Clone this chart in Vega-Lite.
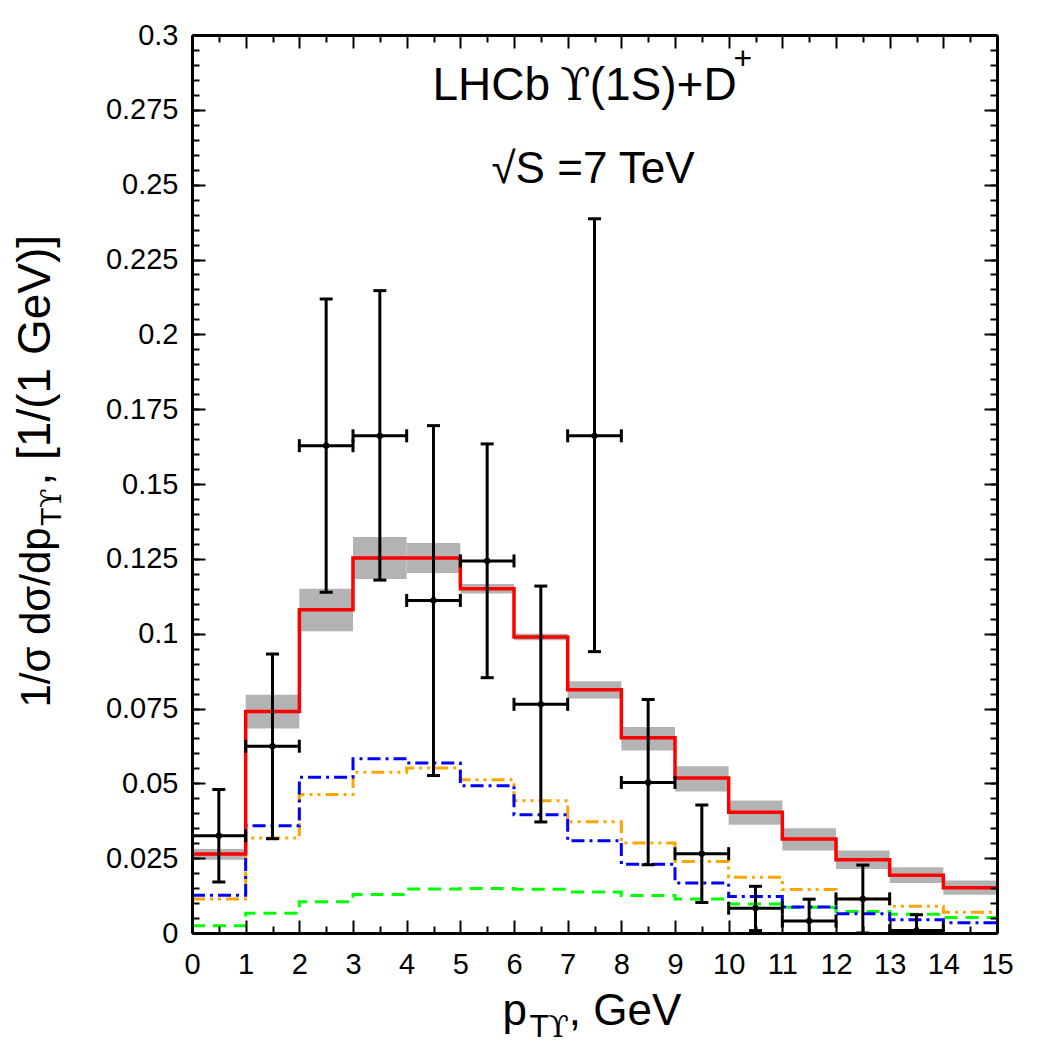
{
  "$schema": "https://vega.github.io/schema/vega-lite/v6.json",
  "width": 805,
  "height": 898,
  "autosize": {"type": "none"},
  "padding": {"left": 192, "top": 35, "right": 53, "bottom": 117},
  "background": "white",
  "config": {
    "view": {"stroke": null},
    "axis": {"grid": false, "tickColor": "black", "domainColor": "black", "labelColor": "black", "labelFont": "Liberation Sans", "title": null}
  },
  "datasets": {
    "bins": [
      {"lo": 0, "hi": 1, "central": 0.0264, "bandLow": 0.0245, "bandHigh": 0.0281, "orange": 0.0114, "blue": 0.0126, "green": 0.0024},
      {"lo": 1, "hi": 2, "central": 0.0740, "bandLow": 0.0683, "bandHigh": 0.0796, "orange": 0.0317, "blue": 0.0358, "green": 0.0066},
      {"lo": 2, "hi": 3, "central": 0.1080, "bandLow": 0.1008, "bandHigh": 0.1150, "orange": 0.0463, "blue": 0.0520, "green": 0.0104},
      {"lo": 3, "hi": 4, "central": 0.1253, "bandLow": 0.1183, "bandHigh": 0.1323, "orange": 0.0537, "blue": 0.0582, "green": 0.0129},
      {"lo": 4, "hi": 5, "central": 0.1253, "bandLow": 0.1203, "bandHigh": 0.1303, "orange": 0.0551, "blue": 0.0568, "green": 0.0147},
      {"lo": 5, "hi": 6, "central": 0.1150, "bandLow": 0.1134, "bandHigh": 0.1166, "orange": 0.0512, "blue": 0.0492, "green": 0.0149},
      {"lo": 6, "hi": 7, "central": 0.0989, "bandLow": 0.0978, "bandHigh": 0.1000, "orange": 0.0442, "blue": 0.0395, "green": 0.0146},
      {"lo": 7, "hi": 8, "central": 0.0813, "bandLow": 0.0783, "bandHigh": 0.0841, "orange": 0.0372, "blue": 0.0308, "green": 0.0137},
      {"lo": 8, "hi": 9, "central": 0.0652, "bandLow": 0.0610, "bandHigh": 0.0688, "orange": 0.0301, "blue": 0.0230, "green": 0.0125},
      {"lo": 9, "hi": 10, "central": 0.0518, "bandLow": 0.0473, "bandHigh": 0.0557, "orange": 0.0239, "blue": 0.0167, "green": 0.0114},
      {"lo": 10, "hi": 11, "central": 0.0403, "bandLow": 0.0362, "bandHigh": 0.0443, "orange": 0.0186, "blue": 0.0122, "green": 0.0097},
      {"lo": 11, "hi": 12, "central": 0.0314, "bandLow": 0.0276, "bandHigh": 0.0350, "orange": 0.0145, "blue": 0.0087, "green": 0.0086},
      {"lo": 12, "hi": 13, "central": 0.0245, "bandLow": 0.0214, "bandHigh": 0.0276, "orange": 0.0114, "blue": 0.0064, "green": 0.0072},
      {"lo": 13, "hi": 14, "central": 0.0193, "bandLow": 0.0167, "bandHigh": 0.0220, "orange": 0.0089, "blue": 0.0044, "green": 0.0063},
      {"lo": 14, "hi": 15, "central": 0.0151, "bandLow": 0.0128, "bandHigh": 0.0175, "orange": 0.0069, "blue": 0.0034, "green": 0.0052}
    ],
    "points": [
      {"x": 0.5, "xlo": 0, "xhi": 1, "y": 0.0325, "ylo": 0.0170, "yhi": 0.0479},
      {"x": 1.5, "xlo": 1, "xhi": 2, "y": 0.0624, "ylo": 0.0315, "yhi": 0.0932},
      {"x": 2.5, "xlo": 2, "xhi": 3, "y": 0.1628, "ylo": 0.1138, "yhi": 0.2118},
      {"x": 3.5, "xlo": 3, "xhi": 4, "y": 0.1661, "ylo": 0.1179, "yhi": 0.2146},
      {"x": 4.5, "xlo": 4, "xhi": 5, "y": 0.1111, "ylo": 0.0526, "yhi": 0.1695},
      {"x": 5.5, "xlo": 5, "xhi": 6, "y": 0.1243, "ylo": 0.0853, "yhi": 0.1634},
      {"x": 6.5, "xlo": 6, "xhi": 7, "y": 0.0764, "ylo": 0.0371, "yhi": 0.1159},
      {"x": 7.5, "xlo": 7, "xhi": 8, "y": 0.1661, "ylo": 0.0940, "yhi": 0.2386},
      {"x": 8.5, "xlo": 8, "xhi": 9, "y": 0.0503, "ylo": 0.0228, "yhi": 0.0780},
      {"x": 9.5, "xlo": 9, "xhi": 10, "y": 0.0265, "ylo": 0.0102, "yhi": 0.0428},
      {"x": 10.5, "xlo": 10, "xhi": 11, "y": 0.0083, "ylo": 0.0008, "yhi": 0.0156},
      {"x": 11.5, "xlo": 11, "xhi": 12, "y": 0.0040, "ylo": -0.0033, "yhi": 0.0113},
      {"x": 12.5, "xlo": 12, "xhi": 13, "y": 0.0114, "ylo": 0.0000, "yhi": 0.0227},
      {"x": 13.5, "xlo": 13, "xhi": 14, "y": 0.0008, "ylo": -0.0045, "yhi": 0.0061}
    ]
  },
  "resolve": {
    "scale": {"x": "shared", "y": "shared"},
    "axis": {"x": "independent", "y": "independent"}
  },
  "layer": [
    {
      "data": {"name": "bins"},
      "mark": {"type": "rect", "fillOpacity": 0, "stroke": "#e4e4e4", "strokeWidth": 1},
      "encoding": {
        "x": {"field": "lo", "type": "quantitative", "scale": {"domain": [0, 15], "nice": false, "zero": false},
          "axis": {"orient": "bottom", "values": [0.5, 1.5, 2.5, 3.5, 4.5, 5.5, 6.5, 7.5, 8.5, 9.5, 10.5, 11.5, 12.5, 13.5, 14.5], "tickSize": -7, "tickWidth": 2, "labels": false, "domain": false, "zindex": 1}},
        "x2": {"field": "hi"},
        "y": {"field": "floor", "type": "quantitative", "scale": {"domain": [0, 0.3], "nice": false, "zero": false},
          "axis": {"orient": "left", "values": [0, 0.005, 0.01, 0.015, 0.02, 0.025, 0.03, 0.035, 0.04, 0.045, 0.05, 0.055, 0.06, 0.065, 0.07, 0.075, 0.08, 0.085, 0.09, 0.095, 0.1, 0.105, 0.11, 0.115, 0.12, 0.125, 0.13, 0.135, 0.14, 0.145, 0.15, 0.155, 0.16, 0.165, 0.17, 0.175, 0.18, 0.185, 0.19, 0.195, 0.2, 0.205, 0.21, 0.215, 0.22, 0.225, 0.23, 0.235, 0.24, 0.245, 0.25, 0.255, 0.26, 0.265, 0.27, 0.275, 0.28, 0.285, 0.29, 0.295, 0.3], "tickSize": -7, "tickWidth": 2, "labels": false, "domain": false, "zindex": 1}},
        "y2": {"field": "bandLow"}
      }
    },
    {
      "data": {"name": "bins"},
      "mark": {"type": "rect", "color": "#b3b3b3"},
      "encoding": {
        "x": {"field": "lo", "type": "quantitative", "scale": {"domain": [0, 15], "nice": false, "zero": false},
          "axis": {"orient": "bottom", "values": [0, 1, 2, 3, 4, 5, 6, 7, 8, 9, 10, 11, 12, 13, 14, 15], "labelExpr": "format(datum.value, 'd')", "tickSize": -13, "tickWidth": 2, "domain": true, "domainWidth": 3, "labelFontSize": 29, "labelPadding": 30, "labelFlush": false, "labelOverlap": false, "labelBound": false, "zindex": 1}},
        "x2": {"field": "hi"},
        "y": {"field": "bandLow", "type": "quantitative", "scale": {"domain": [0, 0.3], "nice": false, "zero": false},
          "axis": {"orient": "left", "values": [0, 0.025, 0.05, 0.075, 0.1, 0.125, 0.15, 0.175, 0.2, 0.225, 0.25, 0.275, 0.3], "labelExpr": "format(datum.value, '~g')", "tickSize": -13, "tickWidth": 2, "domain": true, "domainWidth": 3, "labelFontSize": 29, "labelPadding": 27, "labelFlush": false, "labelOverlap": false, "labelBound": false, "zindex": 1}},
        "y2": {"field": "bandHigh"}
      }
    },
    {
      "data": {"name": "bins"},
      "transform": [{"fold": ["lo", "hi"], "as": ["edge", "edgeX"]}],
      "mark": {"type": "line", "color": "#00ff00", "strokeWidth": 3, "strokeDash": [13, 8]},
      "encoding": {
        "x": {"field": "edgeX", "type": "quantitative", "scale": {"domain": [0, 15], "nice": false, "zero": false},
          "axis": {"orient": "top", "values": [0, 1, 2, 3, 4, 5, 6, 7, 8, 9, 10, 11, 12, 13, 14, 15], "tickSize": -13, "tickWidth": 2, "labels": false, "domain": true, "domainWidth": 3, "zindex": 1}},
        "y": {"field": "green", "type": "quantitative", "scale": {"domain": [0, 0.3], "nice": false, "zero": false},
          "axis": {"orient": "right", "values": [0, 0.025, 0.05, 0.075, 0.1, 0.125, 0.15, 0.175, 0.2, 0.225, 0.25, 0.275, 0.3], "tickSize": -13, "tickWidth": 2, "labels": false, "domain": true, "domainWidth": 3, "zindex": 1}},
        "order": [{"field": "lo", "type": "quantitative"}, {"field": "edge", "type": "nominal", "sort": "descending"}]
      }
    },
    {
      "data": {"name": "bins"},
      "transform": [{"fold": ["lo", "hi"], "as": ["edge", "edgeX"]}],
      "mark": {"type": "line", "color": "#ffa500", "strokeWidth": 3, "strokeDash": [13, 5, 3, 5, 3, 5]},
      "encoding": {
        "x": {"field": "edgeX", "type": "quantitative", "scale": {"domain": [0, 15], "nice": false, "zero": false},
          "axis": {"orient": "top", "values": [0.5, 1.5, 2.5, 3.5, 4.5, 5.5, 6.5, 7.5, 8.5, 9.5, 10.5, 11.5, 12.5, 13.5, 14.5], "tickSize": -7, "tickWidth": 2, "labels": false, "domain": false, "zindex": 1}},
        "y": {"field": "orange", "type": "quantitative", "scale": {"domain": [0, 0.3], "nice": false, "zero": false},
          "axis": {"orient": "right", "values": [0, 0.005, 0.01, 0.015, 0.02, 0.025, 0.03, 0.035, 0.04, 0.045, 0.05, 0.055, 0.06, 0.065, 0.07, 0.075, 0.08, 0.085, 0.09, 0.095, 0.1, 0.105, 0.11, 0.115, 0.12, 0.125, 0.13, 0.135, 0.14, 0.145, 0.15, 0.155, 0.16, 0.165, 0.17, 0.175, 0.18, 0.185, 0.19, 0.195, 0.2, 0.205, 0.21, 0.215, 0.22, 0.225, 0.23, 0.235, 0.24, 0.245, 0.25, 0.255, 0.26, 0.265, 0.27, 0.275, 0.28, 0.285, 0.29, 0.295, 0.3], "tickSize": -7, "tickWidth": 2, "labels": false, "domain": false, "zindex": 1}},
        "order": [{"field": "lo", "type": "quantitative"}, {"field": "edge", "type": "nominal", "sort": "descending"}]
      }
    },
    {
      "data": {"name": "bins"},
      "transform": [{"fold": ["lo", "hi"], "as": ["edge", "edgeX"]}],
      "mark": {"type": "line", "color": "#0000ff", "strokeWidth": 3, "strokeDash": [13, 5, 3, 5]},
      "encoding": {
        "x": {"field": "edgeX", "type": "quantitative", "axis": null},
        "y": {"field": "blue", "type": "quantitative", "axis": null},
        "order": [{"field": "lo", "type": "quantitative"}, {"field": "edge", "type": "nominal", "sort": "descending"}]
      }
    },
    {
      "data": {"name": "bins"},
      "transform": [{"fold": ["lo", "hi"], "as": ["edge", "edgeX"]}],
      "mark": {"type": "line", "color": "#ff0000", "strokeWidth": 3.5},
      "encoding": {
        "x": {"field": "edgeX", "type": "quantitative", "axis": null},
        "y": {"field": "central", "type": "quantitative", "axis": null},
        "order": [{"field": "lo", "type": "quantitative"}, {"field": "edge", "type": "nominal", "sort": "descending"}]
      }
    },
    {
      "data": {"name": "points"},
      "mark": {"type": "rule", "color": "black", "strokeWidth": 3, "clip": true},
      "encoding": {
        "x": {"field": "x", "type": "quantitative", "axis": null},
        "y": {"field": "ylo", "type": "quantitative", "axis": null},
        "y2": {"field": "yhi"}
      }
    },
    {
      "data": {"name": "points"},
      "mark": {"type": "rule", "color": "black", "strokeWidth": 3, "clip": true},
      "encoding": {
        "x": {"field": "xlo", "type": "quantitative", "axis": null},
        "x2": {"field": "xhi"},
        "y": {"field": "y", "type": "quantitative", "axis": null}
      }
    },
    {
      "data": {"name": "points"},
      "transform": [{"fold": ["ylo", "yhi"], "as": ["end", "capY"]}],
      "mark": {"type": "tick", "orient": "horizontal", "color": "black", "size": 13, "thickness": 3, "opacity": 1, "clip": true},
      "encoding": {
        "x": {"field": "x", "type": "quantitative", "axis": null},
        "y": {"field": "capY", "type": "quantitative", "axis": null}
      }
    },
    {
      "data": {"name": "points"},
      "transform": [{"fold": ["xlo", "xhi"], "as": ["end", "capX"]}],
      "mark": {"type": "tick", "orient": "vertical", "color": "black", "size": 13, "thickness": 3, "opacity": 1, "clip": true},
      "encoding": {
        "x": {"field": "capX", "type": "quantitative", "axis": null},
        "y": {"field": "y", "type": "quantitative", "axis": null}
      }
    },
    {
      "data": {"name": "points"},
      "mark": {"type": "point", "filled": true, "color": "black", "size": 40, "opacity": 1, "clip": true},
      "encoding": {
        "x": {"field": "x", "type": "quantitative", "axis": null},
        "y": {"field": "y", "type": "quantitative", "axis": null}
      }
    },
    {
      "data": {"values": [{}]},
      "mark": {"type": "text", "font": "Liberation Sans", "fontSize": 46, "align": "left", "baseline": "alphabetic", "color": "black"},
      "encoding": {
        "x": {"datum": 4.48, "type": "quantitative", "axis": null},
        "y": {"datum": 0.2784, "type": "quantitative", "axis": null},
        "text": {"value": "LHCb"}
      }
    },
    {
      "data": {"values": [{}]},
      "mark": {"type": "text", "font": "DejaVu Serif", "fontSize": 44, "align": "left", "baseline": "alphabetic", "color": "black"},
      "encoding": {
        "x": {"datum": 6.86, "type": "quantitative", "axis": null},
        "y": {"datum": 0.2784, "type": "quantitative", "axis": null},
        "text": {"value": "ϒ"}
      }
    },
    {
      "data": {"values": [{}]},
      "mark": {"type": "text", "font": "Liberation Sans", "fontSize": 46, "align": "left", "baseline": "alphabetic", "color": "black"},
      "encoding": {
        "x": {"datum": 7.41, "type": "quantitative", "axis": null},
        "y": {"datum": 0.2784, "type": "quantitative", "axis": null},
        "text": {"value": "(1S)+D"}
      }
    },
    {
      "data": {"values": [{}]},
      "mark": {"type": "text", "font": "Liberation Sans", "fontSize": 32, "align": "left", "baseline": "alphabetic", "color": "black"},
      "encoding": {
        "x": {"datum": 10.09, "type": "quantitative", "axis": null},
        "y": {"datum": 0.2885, "type": "quantitative", "axis": null},
        "text": {"value": "+"}
      }
    },
    {
      "data": {"values": [{}]},
      "mark": {"type": "text", "font": "Liberation Sans", "fontSize": 44, "align": "left", "baseline": "alphabetic", "color": "black"},
      "encoding": {
        "x": {"datum": 5.58, "type": "quantitative", "axis": null},
        "y": {"datum": 0.2507, "type": "quantitative", "axis": null},
        "text": {"value": "√S =7 TeV"}
      }
    },
    {
      "data": {"values": [{}]},
      "mark": {"type": "text", "font": "Liberation Sans", "fontSize": 44, "align": "left", "baseline": "alphabetic", "color": "black"},
      "encoding": {
        "x": {"datum": 5.786, "type": "quantitative", "axis": null},
        "y": {"datum": -0.0306, "type": "quantitative", "axis": null},
        "text": {"value": "p"}
      }
    },
    {
      "data": {"values": [{}]},
      "mark": {"type": "text", "font": "Liberation Sans", "fontSize": 32, "align": "left", "baseline": "alphabetic", "color": "black"},
      "encoding": {
        "x": {"datum": 6.29, "type": "quantitative", "axis": null},
        "y": {"datum": -0.0346, "type": "quantitative", "axis": null},
        "text": {"value": "T"}
      }
    },
    {
      "data": {"values": [{}]},
      "mark": {"type": "text", "font": "DejaVu Serif", "fontSize": 30, "align": "left", "baseline": "alphabetic", "color": "black"},
      "encoding": {
        "x": {"datum": 6.64, "type": "quantitative", "axis": null},
        "y": {"datum": -0.0346, "type": "quantitative", "axis": null},
        "text": {"value": "ϒ"}
      }
    },
    {
      "data": {"values": [{}]},
      "mark": {"type": "text", "font": "Liberation Sans", "fontSize": 44, "align": "left", "baseline": "alphabetic", "color": "black"},
      "encoding": {
        "x": {"datum": 7.02, "type": "quantitative", "axis": null},
        "y": {"datum": -0.0306, "type": "quantitative", "axis": null},
        "text": {"value": ", GeV"}
      }
    },
    {
      "data": {"values": [{}]},
      "mark": {"type": "text", "font": "Liberation Sans", "fontSize": 42, "align": "left", "baseline": "alphabetic", "angle": 270, "color": "black"},
      "encoding": {
        "x": {"datum": -2.65, "type": "quantitative", "axis": null},
        "y": {"datum": 0.0753, "type": "quantitative", "axis": null},
        "text": {"value": "1/σ dσ/dp"}
      }
    },
    {
      "data": {"values": [{}]},
      "mark": {"type": "text", "font": "Liberation Sans", "fontSize": 30, "align": "left", "baseline": "alphabetic", "angle": 270, "color": "black"},
      "encoding": {
        "x": {"datum": -2.45, "type": "quantitative", "axis": null},
        "y": {"datum": 0.1360, "type": "quantitative", "axis": null},
        "text": {"value": "T"}
      }
    },
    {
      "data": {"values": [{}]},
      "mark": {"type": "text", "font": "DejaVu Serif", "fontSize": 28, "align": "left", "baseline": "alphabetic", "angle": 270, "color": "black"},
      "encoding": {
        "x": {"datum": -2.45, "type": "quantitative", "axis": null},
        "y": {"datum": 0.1421, "type": "quantitative", "axis": null},
        "text": {"value": "ϒ"}
      }
    },
    {
      "data": {"values": [{}]},
      "mark": {"type": "text", "font": "Liberation Sans", "fontSize": 46, "align": "left", "baseline": "alphabetic", "angle": 270, "color": "black"},
      "encoding": {
        "x": {"datum": -2.65, "type": "quantitative", "axis": null},
        "y": {"datum": 0.1495, "type": "quantitative", "axis": null},
        "text": {"value": ", [1/(1 GeV)]"}
      }
    }
  ]
}
